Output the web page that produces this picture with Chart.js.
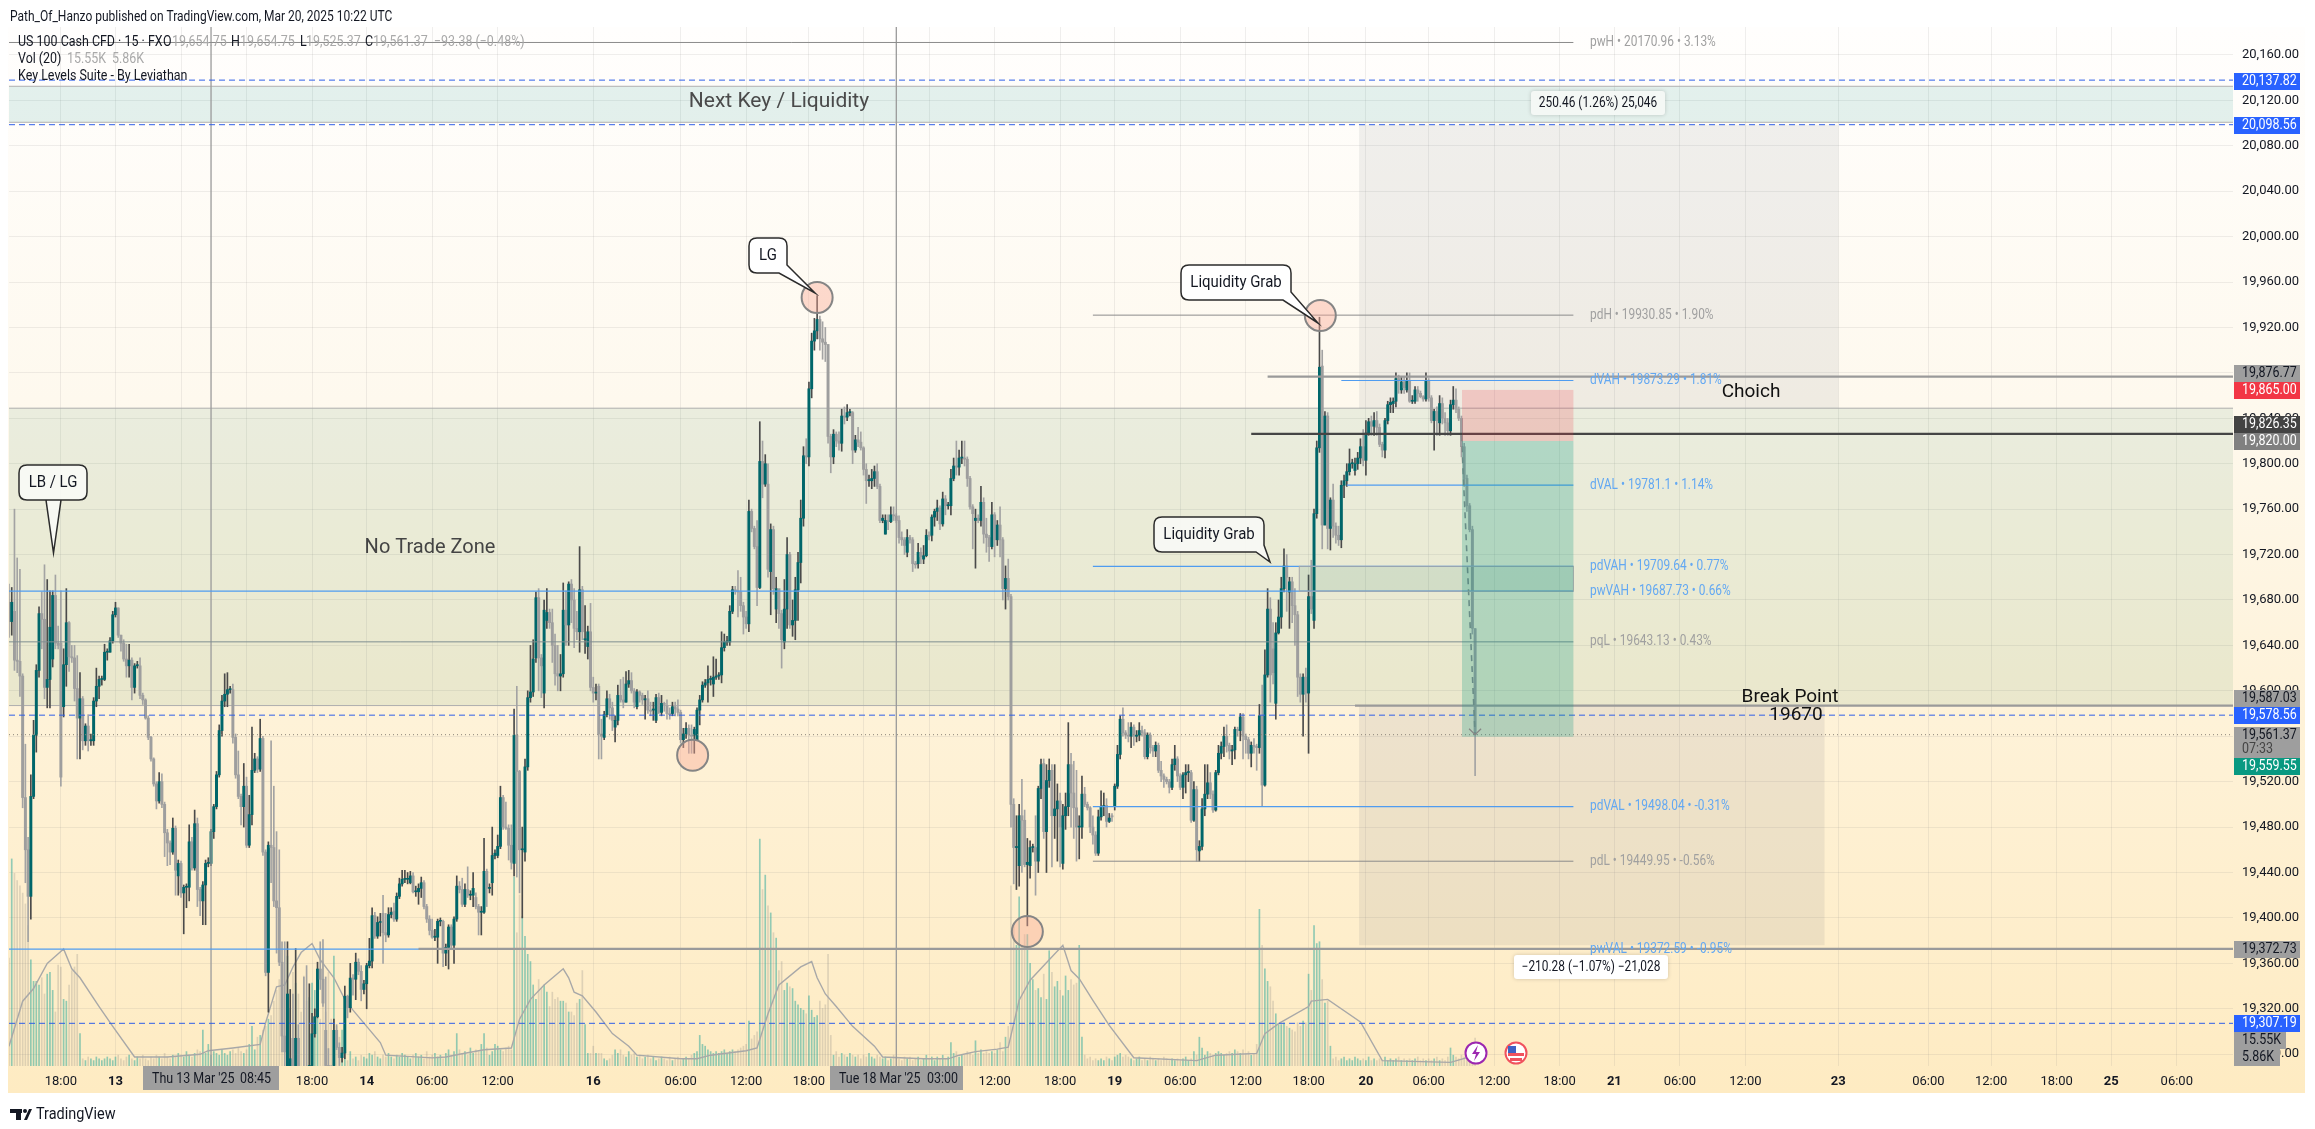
<!DOCTYPE html>
<html>
<head>
<meta charset="utf-8">
<title>US 100 Cash CFD</title>
<script src="https://cdn.jsdelivr.net/npm/chart.js@4/dist/chart.umd.min.js"></script>
<style>
  html, body { margin: 0; padding: 0; background: #fff; overflow: hidden; }
  canvas { display: block; }
</style>
</head>
<body>
<canvas id="chart" width="2315" height="1129"></canvas>
<script>
// all candle values are points above priceBase
const priceBase = 19000;

const candleOpen = [
678,661,670,627,626,613,506,460,419,507,
561,618,668,663,603,610,628,684,642,642,
586,623,660,630,629,602,576,593,556,569,
556,556,591,604,610,610,634,634,644,667,
673,649,642,628,622,627,603,622,622,596,
592,576,559,540,518,503,520,500,475,466,
458,479,437,448,422,427,427,467,444,483,
425,415,429,448,448,476,498,526,565,591,
597,601,601,559,526,507,498,516,464,491,
530,540,531,558,458,352,464,462,415,409,
361,296,257,266,294,255,294,253,265,255,
247,270,298,313,355,346,301,270,263,270,
301,286,277,281,331,321,347,346,361,353,
337,342,358,362,402,384,396,404,387,385,
403,406,399,419,430,434,434,431,437,423,
423,426,431,410,399,389,383,383,397,397,
369,374,392,376,399,428,425,412,425,420,
420,418,410,405,405,441,426,431,455,455,
463,506,480,479,464,448,561,529,460,458,
533,594,599,629,682,629,598,662,669,660,
640,615,613,615,671,658,694,680,655,652,
689,645,639,652,603,598,604,562,559,579,
593,585,568,574,596,592,590,606,609,600,
586,599,596,592,593,583,583,574,594,581,
589,587,580,580,586,584,581,557,562,567,
561,561,557,583,592,605,607,610,606,612,
613,614,638,643,643,670,689,688,687,675,
665,659,758,743,727,691,802,782,782,705,
742,672,690,668,643,672,720,658,662,689,
713,752,807,806,866,908,917,927,910,907,
905,824,806,826,820,818,842,841,845,845,
812,821,819,814,795,785,785,787,793,780,
750,738,750,749,755,754,750,735,733,722,
735,733,712,712,722,716,719,737,737,753,
758,761,747,769,763,763,787,798,797,805,
805,804,787,762,750,752,750,766,738,735,
727,755,733,746,733,690,699,683,500,462,
446,490,486,447,446,462,462,450,514,536,
476,521,530,490,496,503,448,490,498,535,
510,497,480,480,509,500,497,480,473,457,
489,498,499,485,490,498,516,544,575,563,
561,560,568,560,561,565,563,542,561,550,
547,552,530,525,522,520,515,535,540,525,
515,526,528,528,486,513,459,463,496,509,
519,509,495,528,545,551,560,552,547,548,
566,565,577,560,557,545,552,551,550,578,
517,614,672,637,589,651,665,690,710,687,
696,675,667,612,597,612,598,683,662,756,
814,886,746,842,743,768,745,737,733,781,
785,793,800,794,800,805,815,803,827,837,
833,838,832,817,812,838,852,853,855,875,
865,872,865,873,855,855,865,862,859,857,
873,858,838,846,836,853,840,836,829,852,
856,848,840,815,787,763,742,654.75];

const candleClose = [
661,678,627,626,613,506,460,419,507,561,
618,668,663,603,610,656,684,642,640,524,
623,660,630,629,602,576,593,556,569,556,
557,591,604,610,610,634,634,644,667,673,
649,642,628,622,627,603,622,623,596,592,
576,559,540,518,503,520,500,475,466,458,
479,442,448,422,427,427,467,444,483,425,
415,429,448,449,476,498,526,565,591,597,
601,601,559,526,507,498,516,464,491,530,
540,531,558,458,352,464,462,415,409,361,
296,282,333,276,250,294,253,247,255,250,
270,298,313,355,346,325,270,263,257,301,
286,277,281,331,321,347,346,361,353,337,
342,358,362,402,384,396,396,387,385,403,
405,399,419,430,434,434,434,437,423,423,
426,431,410,399,389,383,383,397,397,369,
374,392,376,399,428,425,412,425,420,420,
426,410,405,405,441,426,426,455,457,463,
506,480,479,464,449,561,529,460,460,533,
594,599,628,682,629,622,671,669,660,640,
615,613,615,671,658,694,680,655,652,689,
652,645,652,603,598,598,562,560,579,593,
585,574,574,596,592,590,606,609,600,590,
599,596,592,593,583,582,584,594,581,589,
588,580,579,586,584,581,557,562,567,561,
560,566,583,592,605,607,610,610,612,613,
614,638,643,643,670,689,688,687,675,665,
659,758,743,727,691,802,782,800,707,742,
690,690,668,645,672,720,658,662,689,713,
752,807,806,866,908,917,927,910,907,905,
824,806,826,820,818,842,841,845,845,812,
821,819,814,795,785,786,787,793,780,750,
752,750,749,755,754,750,735,733,728,735,
733,712,711,722,718,719,737,736,753,758,
761,747,769,763,763,787,798,797,805,805,
804,787,762,756,752,750,766,738,735,727,
755,733,746,733,690,699,683,500,462,462,
490,486,447,449,462,462,450,514,535,476,
521,530,490,496,503,480,490,498,535,510,
497,480,480,509,500,497,480,473,457,489,
498,499,485,488,489,516,544,575,563,561,
560,568,560,561,565,563,542,561,550,547,
552,530,525,522,520,515,535,540,525,515,
526,528,528,486,513,460,463,496,509,519,
509,495,528,545,551,560,552,547,548,566,
565,577,560,557,545,552,551,550,578,517,
614,672,614,616,651,665,690,710,700,696,
675,667,612,597,612,598,683,672,756,814,
885,746,842,743,768,745,737,733,781,785,
793,800,800,800,805,815,803,827,837,833,
838,832,817,812,838,852,854,855,875,873,
872,867,873,855,855,865,862,859,857,873,
858,838,846,838,853,840,836,829,852,856,
848,840,815,787,763,742,655,561.37];

const candleHigh = [
694,691,760,717,707,615,553,471,526,574,
623,674,687,711,698,688,688,702,657,688,
637,690,661,640,640,631,616,595,571,579,
562,594,620,613,613,641,637,647,670,678,
673,649,645,641,641,629,624,626,629,598,
593,578,560,541,520,528,527,502,478,468,
488,481,451,450,429,430,482,471,495,488,
427,432,451,453,478,500,529,570,596,615,
616,604,606,562,547,509,536,524,508,568,
545,542,575,560,460,467,556,516,476,460,
379,379,379,337,333,373,306,262,348,358,
342,316,320,361,379,381,348,285,270,311,
306,290,286,340,332,360,350,369,364,358,
345,360,382,409,405,401,404,420,404,409,
409,413,422,435,442,442,440,441,440,428,
430,436,433,412,402,399,390,399,400,398,
377,394,394,401,437,432,435,430,445,424,
440,422,412,410,470,443,430,480,460,473,
516,508,502,482,482,584,604,530,480,540,
600,640,645,687,690,632,680,690,672,672,
650,640,632,695,688,696,698,690,670,727,
692,675,657,677,612,606,606,575,582,600,
597,590,578,605,610,612,617,618,616,602,
601,600,598,596,600,590,590,597,598,596,
590,592,585,590,590,592,583,567,572,570,
570,568,585,596,608,610,622,613,630,628,
616,652,650,648,675,692,692,706,700,678,
670,768,760,745,750,837,820,808,800,747,
745,700,680,671,698,735,722,680,700,722,
768,815,822,872,915,928,948,930,925,920,
905,826,830,828,828,848,850,852,848,846,
825,832,828,815,800,790,795,798,800,782,
755,755,755,762,762,756,754,740,735,742,
737,735,714,730,726,728,742,740,755,760,
768,763,775,772,766,795,805,820,812,820,
820,806,789,764,760,755,780,770,752,737,
766,757,750,762,735,710,716,685,505,490,
500,522,495,470,468,465,490,516,540,540,
535,540,535,535,518,510,500,510,572,545,
538,530,490,525,515,502,498,490,476,495,
512,510,505,492,492,518,552,578,585,565,
572,572,570,565,572,569,566,563,563,552,
555,554,538,527,524,522,540,552,542,527,
528,535,535,530,520,516,468,505,535,535,
528,512,530,552,555,568,570,554,552,568,
568,580,580,562,559,555,558,553,588,605,
636,690,682,660,660,680,700,725,720,700,
700,690,670,615,615,620,702,715,760,820,
929,900,846,845,770,782,748,745,785,790,
800,813,804,805,810,822,830,838,840,842,
845,846,835,819,840,855,858,858,880,878,
876,876,880,880,860,868,868,864,860,880,
875,860,848,850,860,858,845,840,856,868,
866,850,842,818,790,765,745,654.75];

const candleLow = [
647,649,618,616,595,497,431,379,399,505,
546,612,637,593,585,585,621,637,637,516,
577,604,617,625,591,540,540,548,552,547,
552,552,586,593,605,609,627,634,642,665,
647,635,626,612,612,592,598,620,593,588,
575,557,538,516,496,501,497,454,446,447,
456,420,420,418,386,409,415,442,442,410,
402,394,394,445,446,470,496,524,560,586,
586,598,554,523,505,482,480,462,462,482,
528,528,529,455,349,317,431,410,369,358,
282,255,225,255,245,245,247,240,247,245,
240,247,295,312,337,322,255,255,250,255,
284,270,273,276,312,317,332,328,350,327,
333,320,356,356,382,382,384,360,379,383,
400,397,397,417,428,431,430,430,422,419,
412,418,408,396,385,382,380,360,393,357,
358,355,372,360,397,422,410,410,418,416,
410,408,385,385,404,410,422,420,452,453,
461,478,478,451,443,437,436,422,400,450,
530,590,595,625,600,594,585,655,655,625,
605,600,600,612,640,640,660,638,645,634,
645,633,628,600,590,592,540,540,557,577,
575,565,555,570,590,585,590,603,598,585,
584,590,588,575,580,578,574,572,580,578,
582,575,575,578,578,578,554,550,558,545,
545,545,556,570,590,603,590,605,595,610,
610,607,635,640,640,668,685,665,670,650,
655,652,740,725,675,690,770,780,700,667,
685,660,655,620,637,655,655,648,645,662,
695,745,800,798,858,900,910,900,892,890,
818,792,800,815,812,811,835,838,842,800,
810,815,812,790,765,780,778,780,778,748,
748,738,742,748,750,748,730,728,720,718,
730,705,708,708,712,712,718,733,732,745,
750,742,745,755,760,755,785,790,790,800,
798,780,760,725,708,748,745,730,722,714,
725,718,728,718,680,672,680,480,430,425,
428,440,445,393,435,458,420,440,505,470,
440,515,445,470,450,445,443,478,490,480,
470,450,452,470,498,495,475,465,455,455,
486,490,480,484,485,495,514,540,560,558,
555,550,552,555,556,560,540,540,545,542,
542,528,520,515,518,510,513,530,520,513,
505,510,520,484,485,450,450,460,490,505,
505,493,494,526,540,542,546,540,535,540,
560,556,540,545,540,533,545,530,545,498,
516,612,590,606,575,650,655,687,670,655,
660,640,595,590,560,590,545,668,655,752,
810,725,746,725,724,735,730,728,726,770,
780,790,796,790,795,800,798,790,825,825,
825,825,815,806,805,835,845,845,850,862,
862,862,863,854,853,853,855,858,855,855,
855,836,812,825,825,835,825,825,825,848,
845,838,806,780,758,740,650,525.37];

// volume per bar, thousands
const barVolume = [
60,115,107,103,100,96,90,78,59,47,
47,45,49,40,51,52,42,30,56,55,
37,36,45,53,55,62,18,4,3,5,
4,3,5,4,3,4,5,4,3,5,
6,4,3,5,6,4,3,5,4,6,
4,3,5,4,6,5,4,7,5,4,
6,5,7,6,5,8,6,5,7,9,
8,20,7,12,6,8,7,6,9,7,
6,8,9,7,10,8,7,9,12,22,
9,16,17,20,22,26,28,36,42,48,
42,46,61,32,52,46,40,30,50,36,
38,46,42,52,26,58,30,52,26,61,
22,16,20,14,3,8,4,5,3,6,
5,4,7,6,8,5,4,6,5,7,
5,4,6,5,7,6,5,4,6,7,
5,6,4,8,5,6,7,5,6,4,
7,9,6,8,18,9,7,8,6,10,
7,9,8,12,18,10,6,8,12,11,
9,8,10,11,9,105,74,95,83,72,
62,58,45,37,48,43,45,41,33,41,
37,38,36,36,35,30,30,28,35,37,
53,23,7,7,11,7,7,7,4,3,
4,6,9,7,9,6,5,8,6,7,
5,6,4,5,6,4,5,3,4,5,
4,3,5,3,4,5,3,4,5,4,
6,7,8,17,12,11,9,8,7,8,
7,8,9,7,8,9,8,9,10,11,
12,25,15,17,19,126,98,106,89,85,
74,71,53,58,42,46,44,43,36,34,
32,31,29,39,31,27,28,36,32,34,
62,17,6,8,5,7,6,5,7,6,
5,6,4,6,5,7,5,4,6,5,
4,5,3,4,6,5,4,3,5,4,
5,3,4,5,3,4,6,4,5,3,
5,4,6,4,5,13,7,8,5,6,
6,8,7,6,14,7,9,7,8,7,
8,7,9,13,8,16,22,100,79,67,
94,67,73,73,57,48,42,43,38,51,
37,64,52,44,47,42,39,50,42,48,
45,46,67,16,6,4,5,3,4,3,
4,3,5,4,3,5,6,7,5,6,
5,4,3,4,5,3,4,3,5,4,
3,4,3,5,4,3,4,3,4,3,
4,5,3,4,8,6,16,10,6,8,
7,6,7,8,7,6,7,8,7,9,
8,7,9,7,8,6,7,12,87,67,
54,47,44,36,29,23,23,24,22,21,
20,19,24,22,25,24,51,42,78,68,
69,48,35,36,11,4,5,3,4,5,
3,4,3,5,4,3,4,3,5,3,
4,3,4,3,5,3,4,3,4,5,
3,4,3,4,3,4,5,3,4,3,
4,3,4,5,3,4,3,5,10,6,
5,4,6,5,8,10,7,15.55];

// Vol (20) average line, read at its turning points
const maBar = [0,5,9,14,17,20,23,26,33,38,46,58,70,73,82,92,94,98,101,104,107,111,114,117,119,123,126,131,136,138,155,160,165,174,184,187,191,196,203,205,207,210,215,221,227,230,246,252,257,270,274,278,282,290,294,296,299,303,309,317,320,335,344,348,354,362,366,370,374,381,386,389,392,397,403,412,435,442,457,460,465,476,477,483,495,503,528,537];
const maValue = [11,36,43,57,61,65,54,49,33,22,5,5,6.5,8.5,10,12,24,44,45,55,63,68,59,53,49,37,31,22,13,6,4.5,5,6.5,9,10,26,37,45,54,49,41,39,30,18,11,6,4,4,6,8.5,10,29,45,55,58,49,40,33,22,11,5,4,4,6,8,9.4,10.5,36.5,47.6,59,67,53,48.5,36.5,22.6,4.6,3,6,7,18,23.5,33,36,37,24.5,3,2,5.86];

const priceTicks = [20160,20120,20080,20040,20000,19960,19920,19880,19840,19800,19760,19720,19680,19640,19600,19560,19520,19480,19440,19400,19360,19320,19280];
const timeTickBar = [19,39,63,87,111,131,155,179,214,246,270,293,313,337,361,385,405,429,453,476,497,520,544,568,588,612,636,670,703,726,750,770,794];
const timeTickLabel = ['18:00','13','','','18:00','14','06:00','12:00','16','06:00','12:00','18:00','','','12:00','18:00','19','06:00','12:00','18:00','20','06:00','12:00','18:00','21','06:00','12:00','23','06:00','12:00','18:00','25','06:00'];

// earlier entries paint on top, so the thick 19372.73 line comes before the thin 19372.59 one
const levelPrice = [20170.96,20137.82,20098.56,19930.85,19876.77,19873.29,19826.35,19781.1,19709.64,19687.73,19643.13,19587.03,19578.56,19561.37,19498.04,19449.95,19372.73,19372.59,19307.19];
const levelFrom =  [0,0,0,397,461,488,455,490,397,0,0,493,0,0,397,397,150,0,0];
const levelTo =    [573,815,815,573,815,573,815,573,573,573,573,815,815,815,573,573,815,573,815];
const levelStyle = ['gray','dash','dash','gray','thick','blue','black','blue','blue','blue','slate','thick','dash','dot','blue','gray','thick','blue','dash'];

const crosshairBar = [74,325];
const tradeFromBar = [532,537];
const tradePrice = [19825,19561.37];

const styleOf = {
  gray:  {borderColor:'#8b8b8b', borderWidth:1},
  slate: {borderColor:'#7f8f92', borderWidth:1},
  blue:  {borderColor:'#4f9cf0', borderWidth:1.2},
  dash:  {borderColor:'#2f5fe8', borderWidth:1, borderDash:[6,4]},
  dot:   {borderColor:'#8a8378', borderWidth:1, borderDash:[1,3]},
  thick: {borderColor:'#9a9a9a', borderWidth:2.2},
  black: {borderColor:'#454545', borderWidth:2.2}
};

const UP = '#00666a', DOWN = '#9e9e9e';
const textFont = 'Roboto, sans-serif';

const isUp = candleClose.map((c, i) => c >= candleOpen[i]);
const bodies = candleOpen.map((o, i) => ({x:i, y:[priceBase + o, priceBase + candleClose[i]]}));
const wicks = candleLow.map((l, i) => ({x:i, y:[priceBase + l, priceBase + candleHigh[i]]}));
const volumes = barVolume.map((v, i) => ({x:i, y:v}));
const maPoints = maBar.map((b, i) => ({x:b, y:maValue[i]}));

const levelSets = levelPrice.map((p, i) => Object.assign({
  type:'line',
  data:[{x:levelFrom[i], y:p}, {x:levelTo[i], y:p}],
  pointRadius:0,
  order:1
}, styleOf[levelStyle[i]]));

const crossSets = crosshairBar.map(b => ({
  type:'line',
  data:[{x:b, y:19269.6}, {x:b, y:20184.6}],
  borderColor:'#9a9a9a', borderWidth:1.3, pointRadius:0, order:2
}));

// shaded areas, drawn through the scales
const softZones = [
  {x0:-2, x1:817, y0:20132.4, y1:20100.7, fill:'rgba(0,137,123,0.11)', line:'#b0b0b0'},
  {x0:-2, x1:817, y0:19848.9, y1:19587.03, fill:'rgba(70,140,95,0.105)', line:'#aeaeae'},
  {x0:494.5, x1:670, y0:20098.56, y1:19848.9, fill:'rgba(120,123,134,0.11)'},
  {x0:494.5, x1:665, y0:19587.03, y1:19376, fill:'rgba(120,123,134,0.13)'}
];
const topZones = [
  {x0:472.6, x1:573, y0:19709.64, y1:19687.73, fill:'rgba(0,105,92,0.1)', line:'#a8a8a8'},
  {x0:532.2, x1:573, y0:19865, y1:19820, fill:'rgba(242,54,69,0.2)'},
  {x0:532.2, x1:573, y0:19820, y1:19559.55, fill:'rgba(8,153,129,0.25)'}
];

const circles = [{bar:296,price:19946.4},{bar:480.3,price:19930.5},{bar:250.4,price:19543.3},{bar:373,price:19388}];

const levelNotes = [
  ['pwH • 20170.96 • 3.13%',20170.96,'#a0a0a0'],
  ['pdH • 19930.85 • 1.90%',19930.85,'#a0a0a0'],
  ['dVAH • 19873.29 • 1.81%',19873.29,'#63a8f2'],
  ['dVAL • 19781.1 • 1.14%',19781.1,'#63a8f2'],
  ['pdVAH • 19709.64 • 0.77%',19709.64,'#63a8f2'],
  ['pwVAH • 19687.73 • 0.66%',19687.73,'#63a8f2'],
  ['pqL • 19643.13 • 0.43%',19643.13,'#a0a0a0'],
  ['pdVAL • 19498.04 • -0.31%',19498.04,'#63a8f2'],
  ['pdL • 19449.95 • -0.56%',19449.95,'#a0a0a0'],
  ['pwVAL • 19372.59 • -0.95%',19372.59,'#63a8f2']
];

const plainNotes = [
  ['Next Key / Liquidity',779,102,21,'#4a4a4a'],
  ['No Trade Zone',430,548,20,'#444444'],
  ['Choich',1751,392,19,'#111111'],
  ['Break Point',1790,697,19,'#111111'],
  ['19670',1796,715,19,'#111111']
];

// price tags on the right edge: text, top, width, background, text colour
const tags = [
  ['20,137.82',73,66,'#2962ff','#fff'],
  ['20,098.56',117,66,'#2962ff','#fff'],
  ['19,876.77',365,66,'#9e9e9e','#131722'],
  ['19,865.00',382,66,'#f23645','#fff'],
  ['19,826.35',416,66,'#434343','#fff'],
  ['19,820.00',433,66,'#808080','#fff'],
  ['19,587.03',690,66,'#9e9e9e','#131722'],
  ['19,578.56',707,66,'#2962ff','#fff'],
  ['19,559.55',758,66,'#089981','#fff'],
  ['19,372.73',941,66,'#9e9e9e','#131722'],
  ['19,307.19',1015,66,'#2962ff','#fff'],
  ['15.55K',1032,52,'#9e9e9e','#131722'],
  ['5.86K',1049,46,'#9e9e9e','#131722']
];

// narrow text: the reference face is tall and condensed, so squeeze Roboto sideways
function narrowText(ctx, text, x, y, ratio) {
  ctx.fillText(text, x, y, ctx.measureText(text).width * (ratio || 0.83));
}

function fillZone(chart, z) {
  const sx = chart.scales.x, sy = chart.scales.y, ctx = chart.ctx;
  const x0 = sx.getPixelForValue(z.x0), x1 = sx.getPixelForValue(z.x1);
  const y0 = sy.getPixelForValue(z.y0), y1 = sy.getPixelForValue(z.y1);
  ctx.fillStyle = z.fill;
  ctx.fillRect(x0, y0, x1 - x0, y1 - y0);
  if (z.line) {
    ctx.strokeStyle = z.line;
    ctx.lineWidth = 1;
    ctx.strokeRect(x0, y0, x1 - x0, y1 - y0);
  }
}

function callout(ctx, label, box, tail, fill) {
  ctx.beginPath();
  const r = 8, x = box[0], y = box[1], w = box[2], h = box[3];
  ctx.moveTo(x + r, y);
  ctx.lineTo(x + w - r, y);
  ctx.quadraticCurveTo(x + w, y, x + w, y + r);
  if (tail.side === 'right') {
    ctx.lineTo(x + w, tail.a[1]);
    ctx.lineTo(tail.tip[0], tail.tip[1]);
    ctx.lineTo(tail.b[0], tail.b[1]);
    ctx.lineTo(x + r, y + h);
    ctx.quadraticCurveTo(x, y + h, x, y + h - r);
  } else {
    ctx.lineTo(x + w, y + h - r);
    ctx.quadraticCurveTo(x + w, y + h, x + w - r, y + h);
    ctx.lineTo(tail.a[0], y + h);
    ctx.lineTo(tail.tip[0], tail.tip[1]);
    ctx.lineTo(tail.b[0], y + h);
    ctx.lineTo(x + r, y + h);
    ctx.quadraticCurveTo(x, y + h, x, y + h - r);
  }
  ctx.lineTo(x, y + r);
  ctx.quadraticCurveTo(x, y, x + r, y);
  ctx.closePath();
  ctx.fillStyle = fill;
  ctx.fill();
  ctx.strokeStyle = '#2b2b2b';
  ctx.lineWidth = 1.5;
  ctx.stroke();
  ctx.fillStyle = '#131722';
  ctx.font = '17px ' + textFont;
  ctx.textAlign = 'center';
  ctx.textBaseline = 'middle';
  narrowText(ctx, label, x + w / 2, y + h / 2, 0.88);
}

const tvPlugin = {
  id:'tvPlugin',
  beforeDraw(chart) {
    const ctx = chart.ctx;
    ctx.save();
    ctx.fillStyle = '#ffffff';
    ctx.fillRect(0, 0, 2315, 1129);
    const g = ctx.createLinearGradient(0, 27, 0, 1093);
    g.addColorStop(0, '#fffefd');
    g.addColorStop(0.35, '#fef9ee');
    g.addColorStop(0.65, '#fef2d8');
    g.addColorStop(1, '#feebc2');
    ctx.fillStyle = g;
    ctx.fillRect(8, 27, 2297, 1066);
    ctx.fillStyle = '#131722';
    ctx.font = '15px ' + textFont;
    ctx.textAlign = 'left';
    ctx.textBaseline = 'middle';
    narrowText(ctx, 'Path_Of_Hanzo published on TradingView.com, Mar 20, 2025 10:22 UTC', 10, 17, 0.8);
    ctx.restore();
  },
  beforeDatasetsDraw(chart) {
    const ctx = chart.ctx, a = chart.chartArea;
    ctx.save();
    ctx.beginPath();
    ctx.rect(a.left, a.top, a.width, a.height);
    ctx.clip();
    softZones.forEach(z => fillZone(chart, z));
    ctx.restore();
  },
  afterDatasetsDraw(chart) {
    const ctx = chart.ctx, sx = chart.scales.x, sy = chart.scales.y;
    ctx.save();
    topZones.forEach(z => fillZone(chart, z));

    // arrow head at the end of the trade line
    const tipX = sx.getPixelForValue(tradeFromBar[1]), tipY = sy.getPixelForValue(tradePrice[1]);
    ctx.strokeStyle = '#868686';
    ctx.lineWidth = 1.3;
    ctx.beginPath();
    ctx.moveTo(tipX - 6, tipY - 6);
    ctx.lineTo(tipX, tipY);
    ctx.lineTo(tipX + 6, tipY - 6);
    ctx.stroke();

    circles.forEach(c => {
      ctx.beginPath();
      ctx.arc(sx.getPixelForValue(c.bar), sy.getPixelForValue(c.price), 15.5, 0, Math.PI * 2);
      ctx.fillStyle = 'rgba(250,170,150,0.42)';
      ctx.fill();
      ctx.strokeStyle = '#858585';
      ctx.lineWidth = 2;
      ctx.stroke();
    });

    callout(ctx, 'LB / LG', [19,465,68,35], {a:[46,500], tip:[53.5,553], b:[61,500]}, 'rgba(250,252,248,0.85)');
    callout(ctx, 'LG', [749,238,38,35], {side:'right', a:[787,265], tip:[815,293], b:[779,273]}, '#ffffff');
    callout(ctx, 'Liquidity Grab', [1181,265,110,35], {side:'right', a:[1291,292], tip:[1318,323], b:[1283,300]}, '#ffffff');
    callout(ctx, 'Liquidity Grab', [1154,517,110,35], {side:'right', a:[1264,545], tip:[1270,562], b:[1256,552]}, 'rgba(248,250,246,0.9)');

    ctx.textAlign = 'left';
    ctx.textBaseline = 'middle';
    levelNotes.forEach(n => {
      ctx.font = '14px ' + textFont;
      ctx.fillStyle = n[2];
      narrowText(ctx, n[0], 1590, sy.getPixelForValue(n[1]), 0.85);
    });
    ctx.textAlign = 'center';
    plainNotes.forEach(n => {
      ctx.font = n[3] + 'px ' + textFont;
      ctx.fillStyle = n[4];
      ctx.fillText(n[0], n[1], n[2]);
    });

    // white boxes with the trade size
    [['250.46 (1.26%) 25,046',1531,91,134,24],['−210.28 (−1.07%) −21,028',1514,955,154,24]].forEach(b => {
      ctx.shadowColor = 'rgba(0,0,0,0.18)';
      ctx.shadowBlur = 4;
      ctx.fillStyle = b[0][0] === '2' ? '#f4f8f5' : '#ffffff';
      ctx.beginPath();
      ctx.roundRect(b[1], b[2], b[3], b[4], 3);
      ctx.fill();
      ctx.shadowBlur = 0;
      ctx.fillStyle = '#131722';
      ctx.font = '14px ' + textFont;
      narrowText(ctx, b[0], b[1] + b[3] / 2, b[2] + b[4] / 2 + 0.5, 0.85);
    });

    // event markers
    ctx.lineWidth = 2;
    ctx.beginPath();
    ctx.arc(1476, 1053, 10.5, 0, Math.PI * 2);
    ctx.fillStyle = '#fff';
    ctx.fill();
    ctx.strokeStyle = '#9c27b0';
    ctx.stroke();
    ctx.fillStyle = '#9c27b0';
    ctx.beginPath();
    ctx.moveTo(1478, 1045);
    ctx.lineTo(1472, 1054);
    ctx.lineTo(1476, 1054);
    ctx.lineTo(1474, 1061);
    ctx.lineTo(1480, 1052);
    ctx.lineTo(1476, 1052);
    ctx.closePath();
    ctx.fill();

    ctx.beginPath();
    ctx.arc(1516, 1053, 10.5, 0, Math.PI * 2);
    ctx.fillStyle = '#fff';
    ctx.fill();
    ctx.strokeStyle = '#f0525e';
    ctx.stroke();
    ctx.fillStyle = '#f0525e';
    ctx.fillRect(1508, 1053, 16, 3);
    ctx.fillRect(1510, 1058, 12, 3);
    ctx.fillStyle = '#3f62c4';
    ctx.fillRect(1508, 1046, 8, 7);
    ctx.restore();
  },
  afterDraw(chart) {
    const ctx = chart.ctx;
    ctx.save();
    ctx.textBaseline = 'middle';
    ctx.textAlign = 'left';
    tags.forEach(t => {
      ctx.fillStyle = t[3];
      ctx.fillRect(2234, t[1], t[2], 17);
      ctx.fillStyle = t[4];
      ctx.font = '15px ' + textFont;
      narrowText(ctx, t[0], 2242, t[1] + 8.5);
    });
    // last price with the bar countdown
    ctx.fillStyle = '#9e9e9e';
    ctx.fillRect(2234, 727, 66, 31);
    ctx.fillStyle = '#131722';
    narrowText(ctx, '19,561.37', 2242, 735);
    ctx.fillStyle = '#444';
    narrowText(ctx, '07:33', 2242, 749);

    // crosshair labels on the time axis
    [["Thu 13 Mar '25",'08:45',143,136],["Tue 18 Mar '25",'03:00',830,133]].forEach(b => {
      ctx.fillStyle = '#9e9e9e';
      ctx.fillRect(b[2], 1066, b[3], 24);
      ctx.fillStyle = '#131722';
      ctx.font = '15px ' + textFont;
      narrowText(ctx, b[0], b[2] + 9, 1079);
      narrowText(ctx, b[1], b[2] + 97, 1079);
    });

    // legend rows, each piece at its own x
    const grayText = '#a9a9a9', black = '#131722';
    const rows = [
      ['US 100 Cash CFD · 15 · FX',18,42,black],['O',163,42,black],['19,654.75',172,42,grayText],
      ['H',231,42,black],['19,654.75',240,42,grayText],['L',300,42,black],['19,525.37',306,42,grayText],
      ['C',365,42,black],['19,561.37',373,42,grayText],['−93.38 (−0.48%)',434,42,grayText],
      ['Vol (20)',18,59,black],['15.55K',67,59,grayText],['5.86K',112,59,grayText],
      ['Key Levels Suite - By Leviathan',18,76,black]
    ];
    ctx.font = '15px ' + textFont;
    rows.forEach(r => {
      ctx.fillStyle = r[3];
      narrowText(ctx, r[0], r[1], r[2]);
    });

    // footer logo
    ctx.fillStyle = '#131722';
    ctx.fillRect(10, 1109, 12, 4);
    ctx.fillRect(16, 1109, 5, 11);
    ctx.beginPath();
    ctx.arc(25, 1111, 2, 0, Math.PI * 2);
    ctx.fill();
    ctx.beginPath();
    ctx.moveTo(27, 1120);
    ctx.lineTo(24, 1120);
    ctx.lineTo(29, 1109);
    ctx.lineTo(32, 1109);
    ctx.closePath();
    ctx.fill();
    ctx.font = '17px ' + textFont;
    narrowText(ctx, 'TradingView', 36, 1115, 0.85);
    ctx.restore();
  }
};

new Chart(document.getElementById('chart'), {
  type:'bar',
  data:{
    datasets:[
      {type:'bar', data:volumes, yAxisID:'vol', grouped:false, barThickness:1, order:10,
       backgroundColor:isUp.map(u => u ? 'rgba(38,166,154,0.5)' : 'rgba(120,120,120,0.24)')},
      {type:'line', data:maPoints, yAxisID:'vol', borderColor:'#a8a8a8', borderWidth:1.4, pointRadius:0, order:9},
      {type:'bar', data:wicks, grouped:false, barThickness:1, order:6,
       backgroundColor:isUp.map(u => u ? '#4a4a4a' : '#a3a3a3')},
      {type:'bar', data:bodies, grouped:false, barThickness:2.3, minBarLength:1, order:5,
       backgroundColor:isUp.map(u => u ? UP : DOWN)},
      {type:'line', data:tradeFromBar.map((b, i) => ({x:b, y:tradePrice[i]})), borderColor:'#8a8a8a', borderWidth:1.6, borderDash:[6,5], pointRadius:0, order:1},
      ...crossSets,
      ...levelSets
    ]
  },
  options:{
    responsive:false,
    animation:false,
    devicePixelRatio:1,
    layout:{padding:{left:9, top:27, right:10, bottom:36}},
    plugins:{legend:{display:false}, tooltip:{enabled:false}},
    scales:{
      x:{
        type:'linear', min:0, max:814.6, offset:false,
        grid:{color:'rgba(130,130,130,0.13)', drawTicks:false, offset:false},
        border:{display:false},
        afterBuildTicks(axis) { axis.ticks = timeTickBar.map(v => ({value:v})); },
        afterFit(axis) { axis.height = 27; axis.paddingLeft = 0; axis.paddingRight = 0; },
        ticks:{
          autoSkip:false, maxRotation:0, padding:8, color:'#131722',
          font:ctx => ({family:textFont, size:13, weight:/:/.test(timeTickLabel[ctx.index] || ':') ? 'normal' : 'bold'}),
          callback:(v, i) => timeTickLabel[i]
        }
      },
      y:{
        position:'right', min:19269.6, max:20184.6,
        grid:{color:'rgba(130,130,130,0.13)', drawTicks:false},
        border:{display:false},
        afterBuildTicks(axis) { axis.ticks = priceTicks.map(v => ({value:v})); },
        afterFit(axis) { axis.width = 72; axis.paddingTop = 0; axis.paddingBottom = 0; },
        ticks:{
          autoSkip:false, padding:9, color:'#131722',
          font:{family:textFont, size:13},
          callback:v => v.toLocaleString('en-US', {minimumFractionDigits:2, maximumFractionDigits:2})
        }
      },
      vol:{display:false, position:'left', min:0, max:577}
    }
  },
  plugins:[tvPlugin]
});
</script>
</body>
</html>
